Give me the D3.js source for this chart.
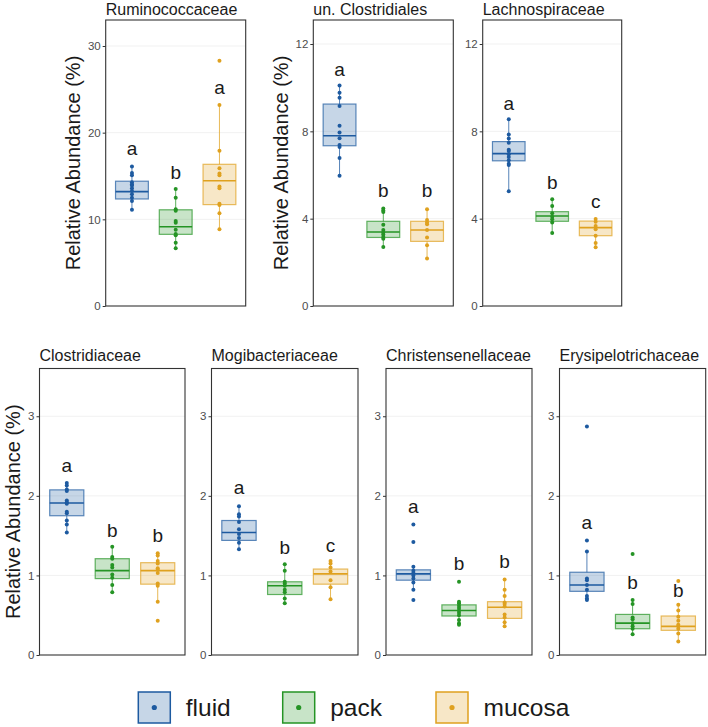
<!DOCTYPE html>
<html><head><meta charset="utf-8">
<script src="https://cdn.jsdelivr.net/npm/d3@7"></script>
<style>
body{margin:0;background:#fff;}
svg{display:block;font-family:"Liberation Sans",Arial,Helvetica,sans-serif;}
</style></head>
<body>
<svg id="chart" width="708" height="727"></svg>
<script>
// ---------------- DATA ----------------
const groups = ["fluid", "pack", "mucosa"];
const families = ["Ruminococcaceae", "un. Clostridiales", "Lachnospiraceae",
  "Clostridiaceae", "Mogibacteriaceae", "Christensenellaceae", "Erysipelotrichaceae"];
const yMax = [33, 13.1, 13.1, 3.6, 3.6, 3.6, 3.6];
const yTicks = [[0, 10, 20, 30], [0, 4, 8, 12], [0, 4, 8, 12],
  [0, 1, 2, 3], [0, 1, 2, 3], [0, 1, 2, 3], [0, 1, 2, 3]];

// box stats per family: [lower whisker, q1, median, q3, upper whisker]
const fluidBox = [[11.1, 12.35, 13.2, 14.4, 16.1], [5.97, 7.34, 7.8, 9.25, 10.1], [5.26, 6.65, 6.98, 7.53, 8.55],
  [1.54, 1.75, 1.91, 2.075, 2.16], [1.33, 1.44, 1.54, 1.69, 1.87], [0.82, 0.94, 1.02, 1.07, 1.11], [0.69, 0.8, 0.88, 1.04, 1.3]];
const packBox = [[6.65, 8.27, 9.15, 11.1, 13.5], [2.7, 3.14, 3.39, 3.88, 4.47], [3.34, 3.88, 4.12, 4.32, 4.89],
  [0.79, 0.96, 1.06, 1.21, 1.36], [0.65, 0.76, 0.87, 0.92, 1.14], [0.38, 0.49, 0.56, 0.63, 0.67], [0.26, 0.33, 0.4, 0.51, 0.69]];
const mucosaBox = [[8.85, 11.7, 14.45, 16.35, 23.2], [2.18, 2.96, 3.48, 3.88, 4.43], [2.69, 3.22, 3.59, 3.89, 3.99],
  [0.67, 0.89, 1.06, 1.16, 1.28], [0.7, 0.89, 1.02, 1.08, 1.18], [0.36, 0.46, 0.6, 0.67, 0.95], [0.17, 0.31, 0.36, 0.49, 0.63]];

const fluidPoints = [
  [16.1, 15.35, 15.1, 14.27, 14.04, 13.9, 13.58, 13.27, 12.88, 12.5, 12.12, 11.12],
  [10.1, 9.77, 9.54, 9.16, 8.26, 7.95, 7.68, 7.37, 7.28, 6.78, 5.97],
  [8.55, 7.85, 7.67, 7.48, 7.16, 7.1, 6.95, 6.83, 6.68, 6.52, 6.46, 5.26],
  [2.16, 2.13, 2.08, 2.06, 1.94, 1.92, 1.9, 1.8, 1.78, 1.69, 1.64, 1.54],
  [1.87, 1.77, 1.74, 1.67, 1.58, 1.52, 1.47, 1.41, 1.33],
  [1.64, 1.42, 1.11, 1.06, 1.03, 1.0, 0.96, 0.91, 0.82, 0.69],
  [2.87, 1.44, 1.3, 0.96, 0.94, 0.88, 0.82, 0.74, 0.71, 0.69]];
const packPoints = [
  [13.5, 12.5, 11.15, 11.0, 9.8, 9.6, 8.8, 8.3, 8.15, 7.3, 6.65],
  [4.47, 4.37, 4.3, 3.72, 3.48, 3.37, 3.28, 3.16, 3.08, 2.7],
  [4.89, 4.58, 4.25, 4.09, 3.97, 3.83, 3.34],
  [1.36, 1.23, 1.21, 1.13, 1.1, 1.01, 0.97, 0.88, 0.79],
  [1.14, 1.06, 0.92, 0.9, 0.87, 0.82, 0.79, 0.71, 0.65],
  [0.92, 0.67, 0.65, 0.62, 0.59, 0.56, 0.53, 0.5, 0.44, 0.4, 0.38],
  [1.27, 0.69, 0.64, 0.47, 0.45, 0.4, 0.36, 0.33, 0.26]];
const mucosaPoints = [
  [28.3, 23.2, 17.9, 15.9, 15.3, 15.1, 13.8, 13.6, 11.8, 11.65, 10.7, 8.85],
  [4.43, 3.94, 3.83, 3.74, 3.48, 3.14, 2.78, 2.18],
  [3.99, 3.86, 3.66, 3.51, 3.22, 2.89, 2.69],
  [1.28, 1.25, 1.18, 1.15, 1.09, 1.07, 1.03, 0.9, 0.87, 0.67, 0.43],
  [1.18, 1.15, 1.1, 1.05, 0.94, 0.85, 0.7],
  [0.95, 0.82, 0.74, 0.66, 0.64, 0.61, 0.51, 0.47, 0.41, 0.36],
  [0.93, 0.63, 0.56, 0.48, 0.43, 0.38, 0.36, 0.33, 0.27, 0.17]];

// significance letters and their heights (data units)
const letters = [["a", "b", "a"], ["a", "b", "b"], ["a", "b", "c"],
  ["a", "b", "b"], ["a", "b", "c"], ["a", "b", "b"], ["a", "b", "b"]];
const letterValues = [[17.4, 14.65, 24.5], [10.55, 4.98, 4.98], [8.96, 5.34, 4.47],
  [2.295, 1.486, 1.415], [2.02, 1.27, 1.30], [1.79, 1.067, 1.088], [1.577, 0.824, 0.732]];

// ---------------- STYLE / LAYOUT ----------------
const colors = {fluid: "#1d5aa0", pack: "#259425", mucosa: "#dfa11f"};
const panels = [
  {x0: 105.7, x1: 245.7, y0: 20, y1: 306, ylab: 72.5, tb: 14.5},
  {x0: 313.3, x1: 453.3, y0: 20, y1: 306, ylab: 281, tb: 14.5},
  {x0: 482.7, x1: 621.7, y0: 20, y1: 306, ylab: null, tb: 14.5},
  {x0: 39.5, x1: 185, y0: 368.5, y1: 655, ylab: 12.5, tb: 361},
  {x0: 211.5, x1: 358, y0: 368.5, y1: 655, ylab: null, tb: 361},
  {x0: 386, x1: 532, y0: 368.5, y1: 655, ylab: null, tb: 361},
  {x0: 559.5, x1: 705.7, y0: 368.5, y1: 655, ylab: null, tb: 361}
];
const boxArr = [fluidBox, packBox, mucosaBox];
const ptArr = [fluidPoints, packPoints, mucosaPoints];

const svg = d3.select("#chart");

panels.forEach((p, i) => {
  const g = svg.append("g");
  const y = d3.scaleLinear().domain([0, yMax[i]]).range([p.y1, p.y0]);
  // discrete x with ggplot-like 0.6 expansion
  const unit = (p.x1 - p.x0) / 3.2;
  const x = d3.scalePoint().domain(groups).range([p.x0 + 0.6 * unit, p.x1 - 0.6 * unit]);
  const bw = 0.75 * unit;

  // grid
  g.selectAll("line.grid").data(yTicks[i].filter(t => t > 0)).join("line")
    .attr("x1", p.x0).attr("x2", p.x1)
    .attr("y1", d => y(d)).attr("y2", d => y(d))
    .attr("stroke", "#ebebeb").attr("stroke-width", 0.7);

  groups.forEach((grp, k) => {
    const s = boxArr[k][i];
    const cx = x(grp);
    const col = colors[grp];
    // whiskers
    g.append("line").attr("x1", cx).attr("x2", cx).attr("y1", y(s[0])).attr("y2", y(s[1]))
      .attr("stroke", col).attr("stroke-opacity", 0.75).attr("stroke-width", 1);
    g.append("line").attr("x1", cx).attr("x2", cx).attr("y1", y(s[3])).attr("y2", y(s[4]))
      .attr("stroke", col).attr("stroke-opacity", 0.75).attr("stroke-width", 1);
    // box
    g.append("rect").attr("x", cx - bw / 2).attr("width", bw)
      .attr("y", y(s[3])).attr("height", y(s[1]) - y(s[3]))
      .attr("fill", col).attr("fill-opacity", 0.25)
      .attr("stroke", col).attr("stroke-opacity", 0.7).attr("stroke-width", 1.2);
    // median
    g.append("line").attr("x1", cx - bw / 2).attr("x2", cx + bw / 2)
      .attr("y1", y(s[2])).attr("y2", y(s[2]))
      .attr("stroke", col).attr("stroke-width", 1.6);
    // points
    g.selectAll(null).data(ptArr[k][i]).join("circle")
      .attr("cx", cx).attr("cy", d => y(d)).attr("r", 2)
      .attr("fill", col);
    // letters
    g.append("text").attr("x", cx).attr("y", y(letterValues[i][k]))
      .attr("text-anchor", "middle").attr("font-size", 19).attr("fill", "#1a1a1a")
      .text(letters[i][k]);
  });

  // border
  g.append("rect").attr("x", p.x0).attr("y", p.y0)
    .attr("width", p.x1 - p.x0).attr("height", p.y1 - p.y0)
    .attr("fill", "none").attr("stroke", "#333").attr("stroke-width", 1.1);

  // axis
  const ax = g.append("g").attr("transform", `translate(${p.x0},0)`)
    .call(d3.axisLeft(y).tickValues(yTicks[i]).tickSize(3).tickPadding(2).tickFormat(d3.format("d")));
  ax.select(".domain").remove();
  ax.selectAll(".tick line").attr("stroke", "#333");
  ax.selectAll(".tick text").attr("font-size", 11.5).attr("fill", "#4d4d4d")
    .attr("font-family", "Liberation Sans, Arial, sans-serif");

  // title
  g.append("text").attr("x", p.x0).attr("y", p.tb).attr("font-size", 16)
    .attr("fill", "#1a1a1a").text(families[i]);

  // y label
  if (p.ylab !== null) {
    const cy = (p.y0 + p.y1) / 2;
    g.append("text").attr("transform", `translate(${p.ylab},${cy}) rotate(-90)`)
      .attr("text-anchor", "middle").attr("dy", "0.35em").attr("font-size", 20)
      .attr("fill", "#1a1a1a").text("Relative Abundance (%)");
  }
});

// legend
const legendX = [138.3, 282.7, 436];
const lg = svg.append("g");
groups.forEach((grp, k) => {
  const col = colors[grp];
  lg.append("rect").attr("x", legendX[k]).attr("y", 692).attr("width", 32).attr("height", 31)
    .attr("fill", col).attr("fill-opacity", 0.25).attr("stroke", col).attr("stroke-width", 1.5);
  lg.append("circle").attr("cx", legendX[k] + 16).attr("cy", 707.5).attr("r", 2.6).attr("fill", col);
  lg.append("text").attr("x", legendX[k] + 47.5).attr("y", 716).attr("font-size", 24.5)
    .attr("fill", "#1a1a1a").text(grp);
});
</script>
</body></html>
